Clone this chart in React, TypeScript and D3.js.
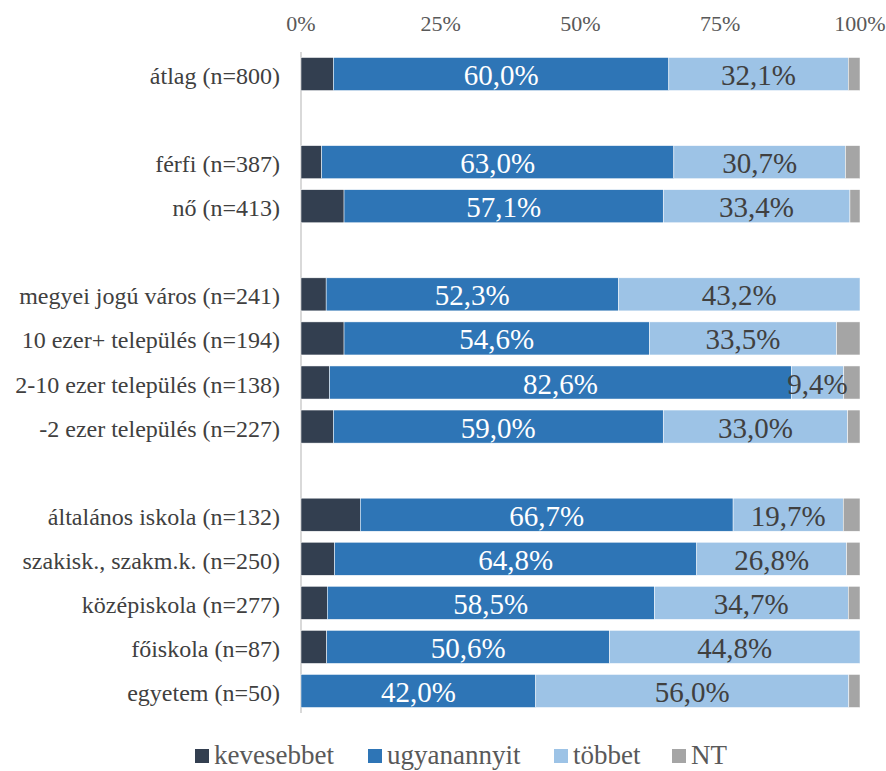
import React from "react";
import * as d3 from "d3";

// row labels; empty strings are the gaps between groups
const categories = [
  "átlag (n=800)",
  "",
  "férfi (n=387)",
  "nő (n=413)",
  "",
  "megyei jogú város (n=241)",
  "10 ezer+ település (n=194)",
  "2-10 ezer település (n=138)",
  "-2 ezer település (n=227)",
  "",
  "általános iskola (n=132)",
  "szakisk., szakm.k. (n=250)",
  "középiskola (n=277)",
  "főiskola (n=87)",
  "egyetem (n=50)",
];

const seriesNames = ["kevesebbet", "ugyanannyit", "többet", "NT"];
const colors = ["#333F50", "#2E75B6", "#9DC3E6", "#A5A5A5"];

const kevesebbet = [5.8, null, 3.7, 7.7, null, 4.5, 7.7, 5.1, 5.8, null, 10.6, 6.0, 4.7, 4.6, 0];
const ugyanannyit = [60.0, null, 63.0, 57.1, null, 52.3, 54.6, 82.6, 59.0, null, 66.7, 64.8, 58.5, 50.6, 42.0];
const tobbet = [32.1, null, 30.7, 33.4, null, 43.2, 33.5, 9.4, 33.0, null, 19.7, 26.8, 34.7, 44.8, 56.0];
const nt = [2.1, null, 2.6, 1.8, null, 0, 4.2, 2.9, 2.2, null, 3.0, 2.4, 2.1, 0, 2.0];

const ticks = [0, 25, 50, 75, 100];

const W = 886;
const H = 771;
const font = '"Liberation Serif", "Times New Roman", Times, serif';

export default function App() {
  const x = d3.scaleLinear().domain([0, 100]).range([301, 860]);
  const y = d3
    .scaleBand<number>()
    .domain(d3.range(categories.length))
    .range([52, 713])
    .paddingInner(0.25)
    .paddingOuter(0.125);

  const rows = categories.map((c, i) => ({
    label: c,
    values: [kevesebbet[i], ugyanannyit[i], tobbet[i], nt[i]],
  }));

  const fmt = (v: number) => v.toFixed(1).replace(".", ",") + "%";
  const legendX = [195, 368, 554, 672];

  return (
    <svg
      width={W}
      height={H}
      style={{ position: "absolute", left: 0, top: 0, background: "#fff", fontFamily: font }}
    >
      {ticks.map((t) => (
        <text key={t} x={x(t)} y={31} textAnchor="middle" fontSize={22} fill="#595959">
          {t}%
        </text>
      ))}
      <line x1={x(0)} x2={x(0)} y1={52} y2={713} stroke="#D9D9D9" strokeWidth={2} />
      {rows.map((r, i) => {
        if (!r.label) return null;
        const y0 = y(i)!;
        const bh = y.bandwidth();
        let acc = 0;
        return (
          <g key={i}>
            <text
              x={280}
              y={y0 + bh / 2 + 10}
              textAnchor="end"
              fontSize={24}
              fill="#404040"
            >
              {r.label}
            </text>
            {r.values.map((v, k) => {
              const start = acc;
              acc += v as number;
              if (!v) return null;
              return (
                <rect
                  key={k}
                  x={x(start)}
                  y={y0}
                  width={x(start + (v as number)) - x(start)}
                  height={bh}
                  fill={colors[k]}
                  stroke="#fff"
                  strokeWidth={0.5}
                />
              );
            })}
            {r.values.map((v, k) => {
              if (k !== 1 && k !== 2) return null;
              const start = d3.sum(r.values.slice(0, k) as number[]);
              const cx = x(start + (v as number) / 2);
              return (
                <text
                  key={"l" + k}
                  x={cx}
                  y={y0 + bh / 2 + 11}
                  textAnchor="middle"
                  fontSize={29}
                  fill={k === 1 ? "#fff" : "#404040"}
                >
                  {fmt(v as number)}
                </text>
              );
            })}
          </g>
        );
      })}
      {seriesNames.map((s, k) => (
        <g key={s}>
          <rect x={legendX[k]} y={749} width={14} height={14} fill={colors[k]} />
          <text x={legendX[k] + 19} y={764} fontSize={27} fill="#595959">
            {s}
          </text>
        </g>
      ))}
    </svg>
  );
}
